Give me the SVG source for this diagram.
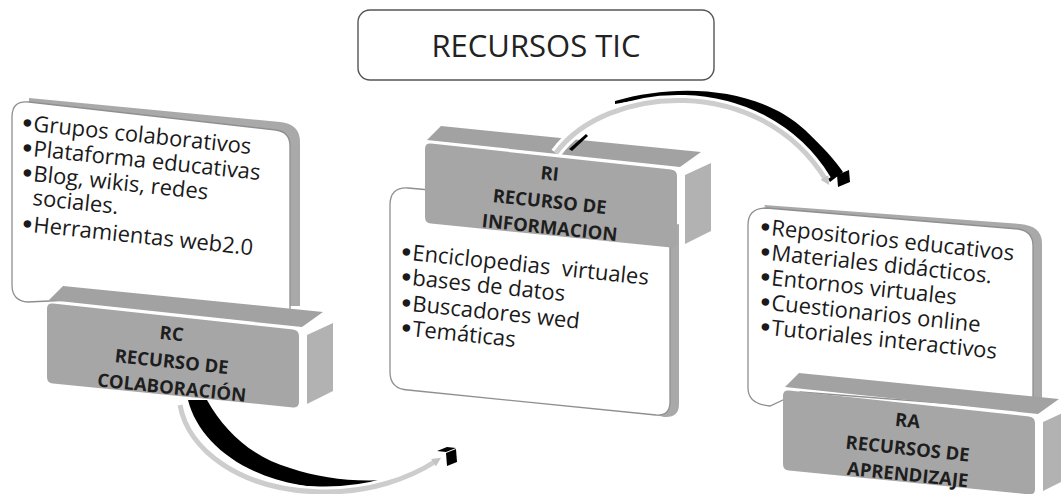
<svg xmlns="http://www.w3.org/2000/svg" xmlns:xlink="http://www.w3.org/1999/xlink" width="1061" height="494" viewBox="0 0 1061 494">
<style>
.t{font-family:"Open Sans","Liberation Sans",sans-serif;font-size:22px;fill:#1a1a1a;white-space:pre}
.bu{font-family:"DejaVu Sans",sans-serif;font-size:26px}
.b{font-family:"Open Sans","Liberation Sans",sans-serif;font-size:18.5px;font-weight:bold;fill:#1e1e1e;text-anchor:middle}
.pan{fill:#fff;stroke:#8f8f8f;stroke-width:1.3}
.band{fill:#a9a9a9}
.ff{fill:#a6a6a6}
.tf{fill:#a2a2a2}
.rf{fill:#b2b2b2}
.halo{fill:none;stroke:#fff;stroke-width:11}
.arc{fill:none;stroke:#cdcdcd;stroke-width:5}
</style>
<defs>
<g id="box">
<polygon class="tf" points="16,-17 276,9 255,24 2,-3"/>
<path class="ff" d="M0,6 Q0,0 6,0.6 L246,26.4 Q252,27 252,33 L252,99 Q252,105 246,104.4 L6,80.6 Q0,80 0,74 Z"/>
<polygon class="rf" points="260,32 286,20 286,88 260,101"/>
</g>
<marker id="ah" markerWidth="9" markerHeight="9" refX="3" refY="4.5" orient="auto" markerUnits="userSpaceOnUse">
<path d="M0,0 L9,4.5 L0,9 Z" fill="#c4c4c4"/>
</marker>
</defs>

<g id="title">
<rect x="358" y="10" width="356" height="70" rx="12" fill="#fff" stroke="#555" stroke-width="1.4"/>
<text x="536" y="57" font-family="'Open Sans','Liberation Sans',sans-serif" font-size="31" fill="#222" text-anchor="middle">RECURSOS TIC</text>
</g>

<g id="node-rc">
<path class="band" d="M29,98 L280,122 Q300,124 300,142 L300,306 L290,306 L290,146 Q290,132 276,130 L29,102 Z"/>
<path class="pan" d="M70,300 L28,302 Q12,301 12,285 L12,117 Q12,100 29,102 L276,130 Q290,132 290,146 L290,312 Z"/>
<text class="t" x="22" y="130" transform="rotate(6 22 130)"><tspan class="bu" dx="-3" dy="2">•</tspan><tspan dx="-1.5" dy="-2">Grupos colaborativos</tspan></text>
<text class="t" x="22" y="155" transform="rotate(6 22 155)"><tspan class="bu" dx="-3" dy="2">•</tspan><tspan dx="-1.5" dy="-2">Plataforma educativas</tspan></text>
<text class="t" x="22" y="180" transform="rotate(6 22 180)"><tspan class="bu" dx="-3" dy="2">•</tspan><tspan dx="-1.5" dy="-2">Blog, wikis, redes</tspan></text>
<text class="t" x="32" y="205" transform="rotate(6 32 205)">sociales.</text>
<text class="t" x="22" y="231" transform="rotate(6 22 231)"><tspan class="bu" dx="-3" dy="2">•</tspan><tspan dx="-1.5" dy="-2">Herramientas web2.0</tspan></text>
<use xlink:href="#box" href="#box" x="47" y="303"/>
<g transform="translate(47,303)">
<text class="b" x="124" y="37" transform="rotate(6 124 37)">RC</text>
<text class="b" x="124" y="65" transform="rotate(6 124 65)">RECURSO DE</text>
<text class="b" x="124" y="91" transform="rotate(6 124 91)">COLABORACIÓN</text>
</g>
</g>

<g id="node-ri">
<path class="band" d="M660,228 L679,224 L679,404 Q679,418 664,417 L656,415 Q670,416 670,402 L670,230 Z"/>
<path class="pan" d="M430,190 L408,188 Q390,187 390,205 L390,372 Q390,389 408,390 L656,415 Q670,416 670,402 L670,230 L640,200 Z"/>
<text class="t" x="401" y="259" transform="rotate(6 401 259)" xml:space="preserve"><tspan class="bu" dx="-3" dy="2">•</tspan><tspan dx="-1.5" dy="-2">Enciclopedias  virtuales</tspan></text>
<text class="t" x="401" y="284" transform="rotate(6 401 284)"><tspan class="bu" dx="-3" dy="2">•</tspan><tspan dx="-1.5" dy="-2">bases de datos</tspan></text>
<text class="t" x="401" y="310" transform="rotate(6 401 310)"><tspan class="bu" dx="-3" dy="2">•</tspan><tspan dx="-1.5" dy="-2">Buscadores wed</tspan></text>
<text class="t" x="401" y="335" transform="rotate(6 401 335)"><tspan class="bu" dx="-3" dy="2">•</tspan><tspan dx="-1.5" dy="-2">Temáticas</tspan></text>
<use xlink:href="#box" href="#box" x="425" y="143"/>
<g transform="translate(425,143)">
<text class="b" x="124" y="37" transform="rotate(6 124 37)">RI</text>
<text class="b" x="124" y="65" transform="rotate(6 124 65)">RECURSO DE</text>
<text class="b" x="124" y="91" transform="rotate(6 124 91)">INFORMACION</text>
</g>
</g>

<g id="node-ra">
<path class="band" d="M764,205 L1020,224 Q1042,226 1042,243 L1042,400 L1033,405 L1033,246 Q1033,231 1018,229 L766,208 Z"/>
<path class="pan" d="M800,392 L770,406 Q748,404 748,388 L748,225 Q748,208 766,208 L1018,229 Q1033,231 1033,246 L1033,410 Z"/>
<text class="t" x="760" y="234" transform="rotate(6 760 234)"><tspan class="bu" dx="-3" dy="2">•</tspan><tspan dx="-1.5" dy="-2">Repositorios educativos</tspan></text>
<text class="t" x="760" y="259" transform="rotate(6 760 259)"><tspan class="bu" dx="-3" dy="2">•</tspan><tspan dx="-1.5" dy="-2">Materiales didácticos.</tspan></text>
<text class="t" x="760" y="284" transform="rotate(6 760 284)"><tspan class="bu" dx="-3" dy="2">•</tspan><tspan dx="-1.5" dy="-2">Entornos virtuales</tspan></text>
<text class="t" x="760" y="309" transform="rotate(6 760 309)"><tspan class="bu" dx="-3" dy="2">•</tspan><tspan dx="-1.5" dy="-2">Cuestionarios online</tspan></text>
<text class="t" x="760" y="334" transform="rotate(6 760 334)"><tspan class="bu" dx="-3" dy="2">•</tspan><tspan dx="-1.5" dy="-2">Tutoriales interactivos</tspan></text>
<use xlink:href="#box" href="#box" x="783" y="390"/>
<g transform="translate(783,390)">
<text class="b" x="124" y="37" transform="rotate(6 124 37)">RA</text>
<text class="b" x="124" y="65" transform="rotate(6 124 65)">RECURSOS DE</text>
<text class="b" x="124" y="91" transform="rotate(6 124 91)">APRENDIZAJE</text>
</g>
</g>

<g id="connectors">
<g id="arc-rc-ri">
<path d="M188,400 C198,440 240,475 300,485 C330,490 360,486 387,480 C350,482 320,478 290,468 C252,457 225,432 207,400 Z" fill="#000"/>
<path class="halo" d="M180,405 C188,450 240,490 320,492 C370,493 410,478 436,461"/>
<path class="arc" d="M180,405 C188,450 240,490 320,492 C370,493 410,478 436,461" marker-end="url(#ah)"/>
<polygon points="437,451 447,447 456,448 446,452" fill="#000"/>
<polygon points="446,453 456,449 457,462 447,466" fill="#000"/>
</g>
<g id="arc-ri-ra">
<path d="M615,101 C680,82 760,88 805,130 C822,146 835,160 843,172 L830,182 C790,110 700,88 615,104 Z" fill="#000"/>
<path d="M569,149 L586,134 L588,136 L572,151 Z" fill="#000"/>
<path class="halo" d="M556,153 C605,85 760,72 826,180"/>
<path class="arc" d="M556,153 C605,85 760,72 826,180" marker-end="url(#ah)"/>
<polygon points="837,175 849,170 850,182 838,187" fill="#000"/>
</g>
</g>
</svg>
